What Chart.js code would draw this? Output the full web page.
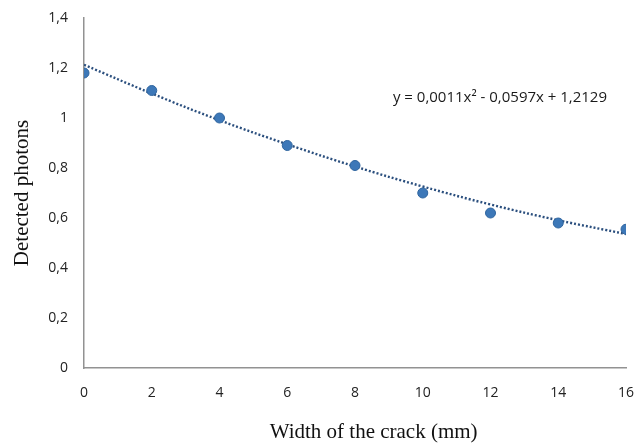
<!DOCTYPE html>
<html>
<head>
<meta charset="utf-8">
<script src="https://cdn.jsdelivr.net/npm/chart.js@4.4.1/dist/chart.umd.min.js"></script>
<style>
  html, body { margin: 0; padding: 0; background: #fff; }
  #wrap { width: 638px; height: 444px; }
</style>
</head>
<body>
<div id="wrap"><canvas id="myChart" width="638" height="444"></canvas></div>
<script>
const widths = [0, 2, 4, 6, 8, 10, 12, 14, 16];
const photons = [1.18, 1.11, 1.00, 0.89, 0.81, 0.70, 0.62, 0.58, 0.555];
// dotted trend line at each width
const trend = [1.213, 1.098, 0.991, 0.895, 0.806, 0.726, 0.654, 0.591, 0.536];
const xTicks = [0, 2, 4, 6, 8, 10, 12, 14, 16];
const yTicks = [0, 0.2, 0.4, 0.6, 0.8, 1, 1.2, 1.4];
const equation = 'y = 0,0011x\u00B2 - 0,0597x + 1,2129';
const xTitle = 'Width of the crack (mm)';

const tickFont = {family: "'Open Sans', Lato, sans-serif", size: 14};
const titleFont = {family: "'Liberation Serif', 'DejaVu Serif', serif", size: 21};

// equation next to the curve + x axis title (sits a bit right of centre)
const extraText = {
  id: 'extraText',
  afterDatasetsDraw(chart) {
    const c = chart.ctx;
    const x = chart.scales.x.getPixelForValue(9.12);
    const y = chart.scales.y.getPixelForValue(1.08);
    c.save();
    c.font = "15px 'Open Sans', Lato, sans-serif";
    c.fillStyle = '#1a1a1a';
    c.textAlign = 'left';
    c.textBaseline = 'middle';
    c.fillText(equation, x, y);
    c.font = "21px 'Liberation Serif', 'DejaVu Serif', serif";
    c.fillStyle = '#111';
    c.textAlign = 'center';
    c.fillText(xTitle, chart.scales.x.getPixelForValue(8.55), 432);
    c.restore();
  }
};

var ctx = document.getElementById('myChart').getContext('2d');
var myChart = new Chart(ctx, {
  type: 'scatter',
  data: {
    datasets: [
      {
        label: 'Trend',
        type: 'line',
        data: widths.map((w, i) => ({x: w, y: trend[i]})),
        borderColor: '#2b4f7e',
        borderWidth: 2.4,
        borderDash: [2, 2],
        pointRadius: 0,
        tension: 0.4,
        fill: false,
        order: 2
      },
      {
        label: 'Detected photons',
        data: widths.map((w, i) => ({x: w, y: photons[i]})),
        backgroundColor: '#3d78b8',
        borderColor: '#2f659f',
        borderWidth: 1,
        pointRadius: 5,
        order: 1
      }
    ]
  },
  options: {
    responsive: false,
    animation: false,
    layout: {padding: {left: 0, right: 12, top: 18, bottom: 0}},
    plugins: {legend: {display: false}, tooltip: {enabled: false}},
    scales: {
      x: {
        type: 'linear',
        min: 0, max: 16,
        afterBuildTicks: (s) => { s.ticks = xTicks.map(v => ({value: v})); },
        afterFit: (s) => { s.height = 76; s.paddingRight = 0; },
        grid: {display: false, drawTicks: false},
        border: {color: '#929292', width: 1.5},
        ticks: {
          font: tickFont, color: '#222', padding: 17, maxRotation: 0,
          callback: (v) => String(v)
        }
      },
      y: {
        min: 0, max: 1.4,
        afterBuildTicks: (s) => { s.ticks = yTicks.map(v => ({value: v})); },
        afterFit: (s) => { s.width = 84; s.paddingTop = 0; s.paddingBottom = 0; },
        grid: {display: false, drawTicks: false},
        border: {color: '#929292', width: 1.5},
        ticks: {
          font: tickFont, color: '#222', padding: 16,
          callback: (v) => String(Math.round(v * 10) / 10).replace('.', ',')
        },
        title: {
          display: true, text: 'Detected photons',
          font: titleFont, color: '#111', padding: {top: 10, bottom: 0}
        }
      }
    }
  },
  plugins: [extraText]
});
</script>
</body>
</html>
